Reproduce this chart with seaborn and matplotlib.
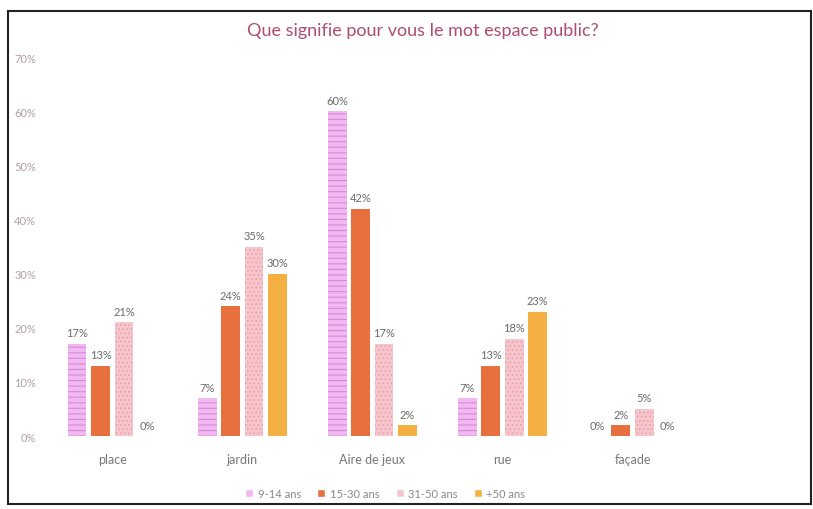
import matplotlib
matplotlib.use("Agg")
import matplotlib.pyplot as plt
import seaborn as sns
import pandas as pd
from matplotlib.patches import Rectangle

categories = ["place", "jardin", "Aire de jeux", "rue", "façade"]
age_groups = ["9-14 ans", "15-30 ans", "31-50 ans", "+50 ans"]
v_9_14 = [17, 7, 60, 7, 0]
v_15_30 = [13, 24, 42, 13, 2]
v_31_50 = [21, 35, 17, 18, 5]
v_50_plus = [0, 30, 2, 23, 0]
y_ticks = [0, 10, 20, 30, 40, 50, 60, 70]

colors = ["#f2b8f2", "#e8703e", "#f6c6cc", "#f4b042"]
hatch_colors = ["#d58ad8", None, "#eaa3ad", None]
hatches = ["---", None, "....", None]

rows = []
for grp, vals in zip(age_groups, [v_9_14, v_15_30, v_31_50, v_50_plus]):
    for cat, v in zip(categories, vals):
        rows.append({"cat": cat, "age": grp, "val": v})
df = pd.DataFrame(rows)

sns.set_theme(style="white")
plt.rcParams["font.family"] = ["Lato", "DejaVu Sans"]
plt.rcParams["hatch.linewidth"] = 0.8

fig = plt.figure(figsize=(8.13, 5.10), dpi=100)
ax = fig.add_axes([0.058, 0.143, 0.80, 0.743])

sns.barplot(data=df, x="cat", y="val", hue="age", order=categories,
            hue_order=age_groups, palette=colors, width=0.72, gap=0.2,
            saturation=1, ax=ax, legend=True)

for i, cont in enumerate(ax.containers):
    for bar in cont:
        bar.set_linewidth(0)
        if hatches[i]:
            bar.set_hatch(hatches[i])
            bar.set_edgecolor(hatch_colors[i])
    ax.bar_label(cont, labels=[f"{v:.0f}%" for v in cont.datavalues],
                 padding=4, fontsize=8, color="#6a6a6a")

ax.set_ylim(0, 70)
ax.set_yticks(y_ticks)
ax.set_yticklabels([f"{t}%" for t in y_ticks])
ax.set_xlim(-0.5, 4.5)
ax.set_xlabel("")
ax.set_ylabel("")
ax.tick_params(axis="y", colors="#b0a0a8", labelsize=8, length=0, pad=8)
ax.tick_params(axis="x", colors="#777777", labelsize=9, length=0, pad=12)
for s in ax.spines.values():
    s.set_visible(False)

leg = ax.legend(loc="upper center", bbox_to_anchor=(0.52, -0.11), ncol=4,
                frameon=False, fontsize=8, handlelength=0.7, handleheight=0.7,
                columnspacing=1.5, handletextpad=0.4)
for t in leg.get_texts():
    t.set_color("#888888")

fig.text(0.52, 0.94, "Que signifie pour vous le mot espace public?",
         ha="center", va="center", fontsize=13, color="#b04a72")

fig.patches.append(Rectangle((0.010, 0.010), 0.987, 0.966,
                             transform=fig.transFigure, fill=False,
                             edgecolor="#222222", linewidth=1.5))

fig.savefig("out.png", dpi=100)
